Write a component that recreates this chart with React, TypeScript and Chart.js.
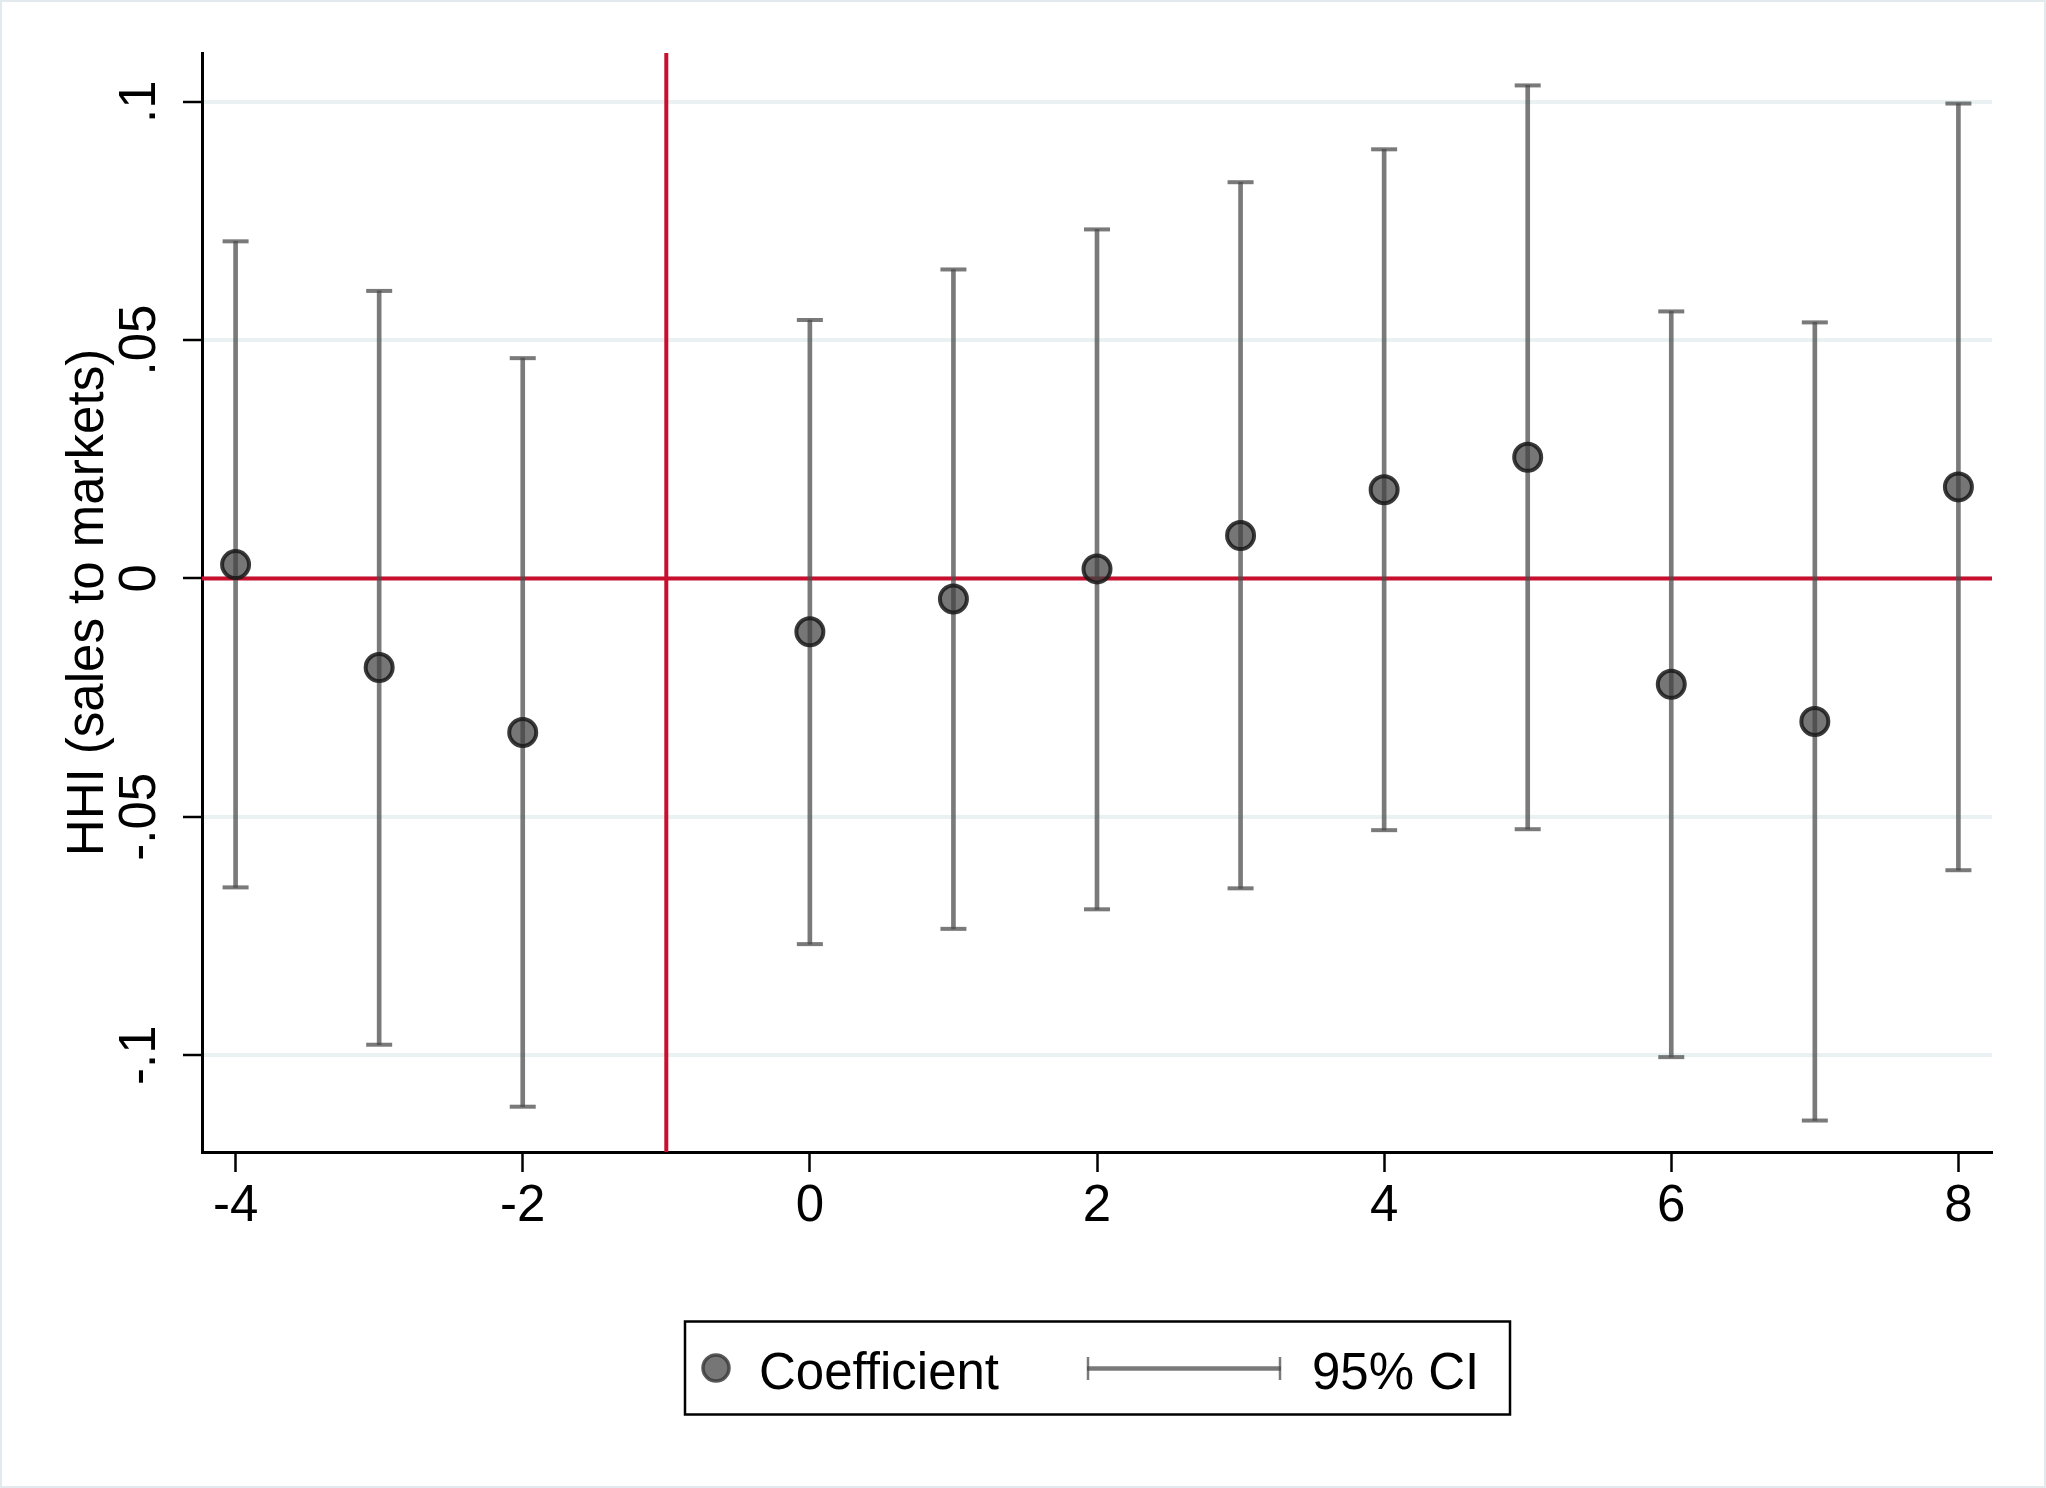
import React, { useEffect, useRef } from 'react';
import { Chart, registerables } from 'chart.js';

Chart.register(...registerables);

// ---- data ----
const periods = [-4, -3, -2, 0, 1, 2, 3, 4, 5, 6, 7, 8];
const coefficients = [0.0029, -0.0187, -0.0323, -0.0112, -0.0043, 0.002, 0.009, 0.0186, 0.0254, -0.0222, -0.03, 0.0192];
const ciUpper = [0.0707, 0.0603, 0.0462, 0.0542, 0.0648, 0.0732, 0.0831, 0.09, 0.1034, 0.056, 0.0537, 0.0996];
const ciLower = [-0.0648, -0.0978, -0.1108, -0.0767, -0.0735, -0.0694, -0.065, -0.0528, -0.0526, -0.1004, -0.1137, -0.0612];
const xTickValues = [-4, -2, 0, 2, 4, 6, 8];
const yTickValues = [-0.1, -0.05, 0, 0.05, 0.1];
const yTickLabels = ['-.1', '-.05', '0', '.05', '.1'];
const eventPeriod = -1;
const zeroLevel = 0;
const yAxisTitle = 'HHI (sales to markets)';
const seriesLabels = ['Coefficient', '95% CI'];

// ---- styles ----
const FONT = "'Liberation Sans', Arial, Helvetica, sans-serif";
const RED = '#c8102e';
const CI_COLOR = 'rgba(75,75,75,0.74)';
const MARKER_FILL = 'rgba(65,65,65,0.72)';
const MARKER_EDGE = 'rgba(25,25,25,0.85)';
const GRID = '#e9f1f2';

const framePlugin = {
  id: 'frame',
  beforeDraw(chart: any) {
    const { ctx, width, height } = chart;
    ctx.save();
    ctx.fillStyle = '#ffffff';
    ctx.fillRect(0, 0, width, height);
    ctx.strokeStyle = '#e3eaed';
    ctx.lineWidth = 2;
    ctx.strokeRect(1, 1, width - 2, height - 2);
    ctx.restore();
  },
};

const refLinesPlugin = {
  id: 'refLines',
  beforeDatasetsDraw(chart: any) {
    const { ctx, chartArea: a, scales } = chart;
    const py = scales.y.getPixelForValue(zeroLevel);
    const px = scales.x.getPixelForValue(eventPeriod);
    ctx.save();
    ctx.strokeStyle = RED;
    ctx.lineWidth = 4;
    ctx.beginPath();
    ctx.moveTo(a.left, py);
    ctx.lineTo(a.right, py);
    ctx.moveTo(px, a.top);
    ctx.lineTo(px, a.bottom);
    ctx.stroke();
    ctx.restore();
  },
};

const legendPlugin = {
  id: 'legendBox',
  afterDraw(chart: any) {
    const { ctx } = chart;
    const ds = chart.data.datasets;
    ctx.save();
    ctx.lineWidth = 2.5;
    ctx.strokeStyle = '#000';
    ctx.strokeRect(685, 1321.5, 825, 93);
    // coefficient marker
    ctx.beginPath();
    ctx.arc(716, 1368, 13, 0, Math.PI * 2);
    ctx.fillStyle = ds[0].pointBackgroundColor;
    ctx.fill();
    ctx.lineWidth = 3.5;
    ctx.strokeStyle = 'rgba(60,60,60,0.85)';
    ctx.stroke();
    ctx.font = `51px ${FONT}`;
    ctx.fillStyle = '#000';
    ctx.textAlign = 'left';
    ctx.textBaseline = 'alphabetic';
    ctx.fillText(ds[0].label, 759, 1389);
    // CI sample
    ctx.strokeStyle = CI_COLOR;
    ctx.lineWidth = 4.5;
    ctx.beginPath();
    ctx.moveTo(1087, 1368.5);
    ctx.lineTo(1281, 1368.5);
    ctx.stroke();
    ctx.lineWidth = 2.5;
    ctx.beginPath();
    ctx.moveTo(1088, 1357);
    ctx.lineTo(1088, 1380);
    ctx.moveTo(1280, 1357);
    ctx.lineTo(1280, 1380);
    ctx.stroke();
    ctx.fillStyle = '#000';
    ctx.fillText(ds[1].label, 1312, 1389);
    ctx.restore();
  },
};

export default function App() {
  const canvasRef = useRef<HTMLCanvasElement | null>(null);

  useEffect(() => {
    document.body.style.margin = '0';
    document.body.style.overflow = 'hidden';
    const canvas = canvasRef.current;
    if (!canvas) return;

    const chart = new Chart(canvas, {
      type: 'scatter',
      data: {
        datasets: [
          {
            type: 'scatter',
            label: seriesLabels[0],
            data: periods.map((p, i) => ({ x: p, y: coefficients[i] })),
            pointStyle: 'circle',
            pointRadius: 13.5,
            pointBorderWidth: 4,
            pointBackgroundColor: MARKER_FILL,
            pointBorderColor: MARKER_EDGE,
            order: 0,
          } as any,
          {
            type: 'bar',
            label: seriesLabels[1],
            data: periods.map((p, i) => ({ x: p, y: [ciLower[i], ciUpper[i]] })),
            backgroundColor: CI_COLOR,
            borderWidth: 0,
            barThickness: 4,
            order: 2,
          } as any,
          {
            type: 'scatter',
            label: 'ci-upper',
            data: periods.map((p, i) => ({ x: p, y: ciUpper[i] })),
            pointStyle: 'line',
            pointRadius: 13,
            pointBorderWidth: 4,
            pointBorderColor: CI_COLOR,
            order: 1,
          } as any,
          {
            type: 'scatter',
            label: 'ci-lower',
            data: periods.map((p, i) => ({ x: p, y: ciLower[i] })),
            pointStyle: 'line',
            pointRadius: 13,
            pointBorderWidth: 4,
            pointBorderColor: CI_COLOR,
            order: 1,
          } as any,
        ],
      },
      options: {
        animation: false,
        responsive: true,
        maintainAspectRatio: false,
        devicePixelRatio: 1,
        events: [],
        layout: { padding: { left: 0, top: 53, right: 54, bottom: 236 } },
        plugins: {
          legend: { display: false },
          tooltip: { enabled: false },
          title: { display: false },
        },
        scales: {
          x: {
            type: 'linear',
            min: -4.234,
            max: 8.234,
            offset: false,
            afterBuildTicks: (s: any) => {
              s.ticks = xTickValues.map((v) => ({ value: v }));
            },
            afterFit: (s: any) => {
              s.height = 100;
            },
            grid: {
              offset: false,
              drawOnChartArea: false,
              drawTicks: true,
              tickLength: 20,
              tickWidth: 2.5,
              tickColor: '#000',
            },
            border: { display: true, color: '#000', width: 3 },
            ticks: {
              autoSkip: false,
              minRotation: 0,
              maxRotation: 0,
              padding: 4,
              color: '#000',
              font: { family: FONT, size: 51 },
              callback: (v: any) => String(v),
            },
          },
          y: {
            type: 'linear',
            min: -0.1203,
            max: 0.1102,
            offset: false,
            afterBuildTicks: (s: any) => {
              s.ticks = yTickValues.map((v) => ({ value: v }));
            },
            afterFit: (s: any) => {
              s.width = 202;
            },
            grid: {
              offset: false,
              drawOnChartArea: true,
              color: GRID,
              lineWidth: 4,
              drawTicks: true,
              tickLength: 19,
              tickWidth: 2.5,
              tickColor: '#000',
            },
            border: { display: true, color: '#000', width: 3 },
            ticks: {
              autoSkip: false,
              minRotation: 90,
              maxRotation: 90,
              crossAlign: 'center',
              padding: -2,
              color: '#000',
              font: { family: FONT, size: 51 },
              callback: (v: any) => {
                const i = yTickValues.indexOf(v);
                return i >= 0 ? yTickLabels[i] : '';
              },
            },
            title: {
              display: true,
              text: yAxisTitle,
              color: '#000',
              font: { family: FONT, size: 51 },
              padding: { top: 58, bottom: 0 },
            },
          },
        },
      } as any,
      plugins: [framePlugin, refLinesPlugin, legendPlugin],
    });

    return () => chart.destroy();
  }, []);

  return (
    <div style={{ width: 2046, height: 1488, position: 'relative', background: '#fff' }}>
      <canvas ref={canvasRef} />
    </div>
  );
}
